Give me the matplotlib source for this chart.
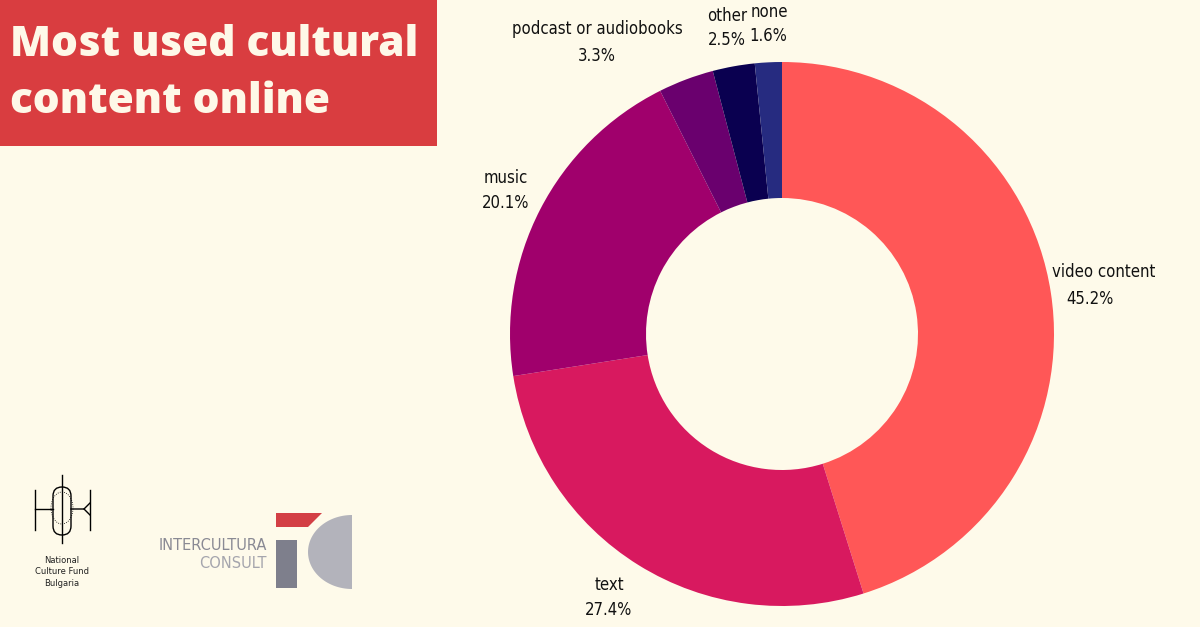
#!/usr/bin/env python3
"""Most used cultural content online - donut chart"""

import numpy as np
import matplotlib.pyplot as plt
from matplotlib import patches

categories = ["video content", "text", "music", "podcast or audiobooks", "other", "none"]
shares = [45.2, 27.4, 20.1, 3.3, 2.5, 1.6]
colors = ["#FF5757", "#D8195F", "#A0006C", "#6A006E", "#0A0050", "#262B80"]

# label anchor points in pixels (x, y from top) for name and value lines
name_pos = [(1104, 272), (609, 585), (506, 178), (597, 29), (727, 16), (769, 12)]
value_pos = [(1090, 299), (609, 610), (506, 203), (597, 56), (727, 40), (768, 36)]

BG = "#FEFAEA"
W, H = 1200, 627


def draw_logos(ax):
    # National Culture Fund mark (rough sketch)
    ax.add_patch(patches.FancyBboxPatch((53, H - 535), 18, 48, boxstyle="round,pad=0,rounding_size=9",
                                        fill=False, lw=1, ec="black"))
    ax.plot([35, 35], [H - 490, H - 530], color="black", lw=1)
    ax.plot([35, 53], [H - 509, H - 509], color="black", lw=1)
    ax.plot([90, 90], [H - 490, H - 530], color="black", lw=1)
    ax.plot([71, 84, 90], [H - 509, H - 509, H - 503], color="black", lw=1)
    ax.plot([84, 90], [H - 509, H - 515], color="black", lw=1)
    ax.plot([62, 62], [H - 475, H - 543], color="black", lw=1)
    ax.add_patch(patches.Ellipse((62, H - 508), 22, 32, fill=False, lw=0.6, ec="black", ls=":"))
    ax.text(62, H - 572, "National\nCulture Fund\nBulgaria", ha="center", va="center",
            fontsize=6, linespacing=1.3, family="DejaVu Sans", color="#222222")

    # Intercultura Consult mark
    ax.add_patch(patches.Polygon([(276, H - 513), (322, H - 513), (308, H - 527), (276, H - 527)],
                                 closed=True, fc="#D33F45", ec="none"))
    ax.add_patch(patches.Rectangle((276, H - 588), 21, 48, fc="#7E7F8C", ec="none"))
    t = np.linspace(np.pi / 2, 3 * np.pi / 2, 60)
    arc = np.column_stack([352 + 44 * np.cos(t), H - 552 + 37 * np.sin(t)])
    ax.add_patch(patches.Polygon(arc, closed=True, fc="#B3B3BB", ec="none"))
    ax.text(267, H - 545, "INTERCULTURA", ha="right", va="center", fontsize=11.7,
            family="DejaVu Sans", stretch="condensed", color="#8A8A94")
    ax.text(267, H - 563, "CONSULT", ha="right", va="center", fontsize=11.7,
            family="DejaVu Sans", stretch="condensed", color="#A5A5AD")


def main():
    fig = plt.figure(figsize=(12, 6.27), dpi=100, facecolor=BG)
    ax = fig.add_axes([0, 0, 1, 1])
    ax.set_facecolor(BG)

    ax.pie(shares, colors=colors, startangle=90, counterclock=False,
           center=(782, H - 334), radius=272, frame=True,
           wedgeprops=dict(width=136, edgecolor="none"))

    for name, (nx, ny), share, (vx, vy) in zip(categories, name_pos, shares, value_pos):
        ax.text(nx, H - ny, name, ha="center", va="center", fontsize=12,
                family="DejaVu Sans", stretch="condensed", color="#111111")
        ax.text(vx, H - vy, f"{share}%", ha="center", va="center", fontsize=12,
                family="DejaVu Sans", stretch="condensed", color="#111111")

    # title box
    ax.add_patch(patches.Rectangle((0, H - 146), 437, 146, fc="#D93D40", ec="none"))
    ax.text(10, H - 45, "Most used cultural", ha="left", va="center", fontsize=30.5,
            family="Open Sans", weight="heavy", color="#FEF8E8")
    ax.text(10, H - 102, "content online", ha="left", va="center", fontsize=30.5,
            family="Open Sans", weight="heavy", color="#FEF8E8")

    draw_logos(ax)

    ax.set_xlim(0, W)
    ax.set_ylim(0, H)
    ax.set_aspect("auto")
    ax.axis("off")
    fig.savefig("out.png", dpi=100, facecolor=BG)


if __name__ == "__main__":
    main()
